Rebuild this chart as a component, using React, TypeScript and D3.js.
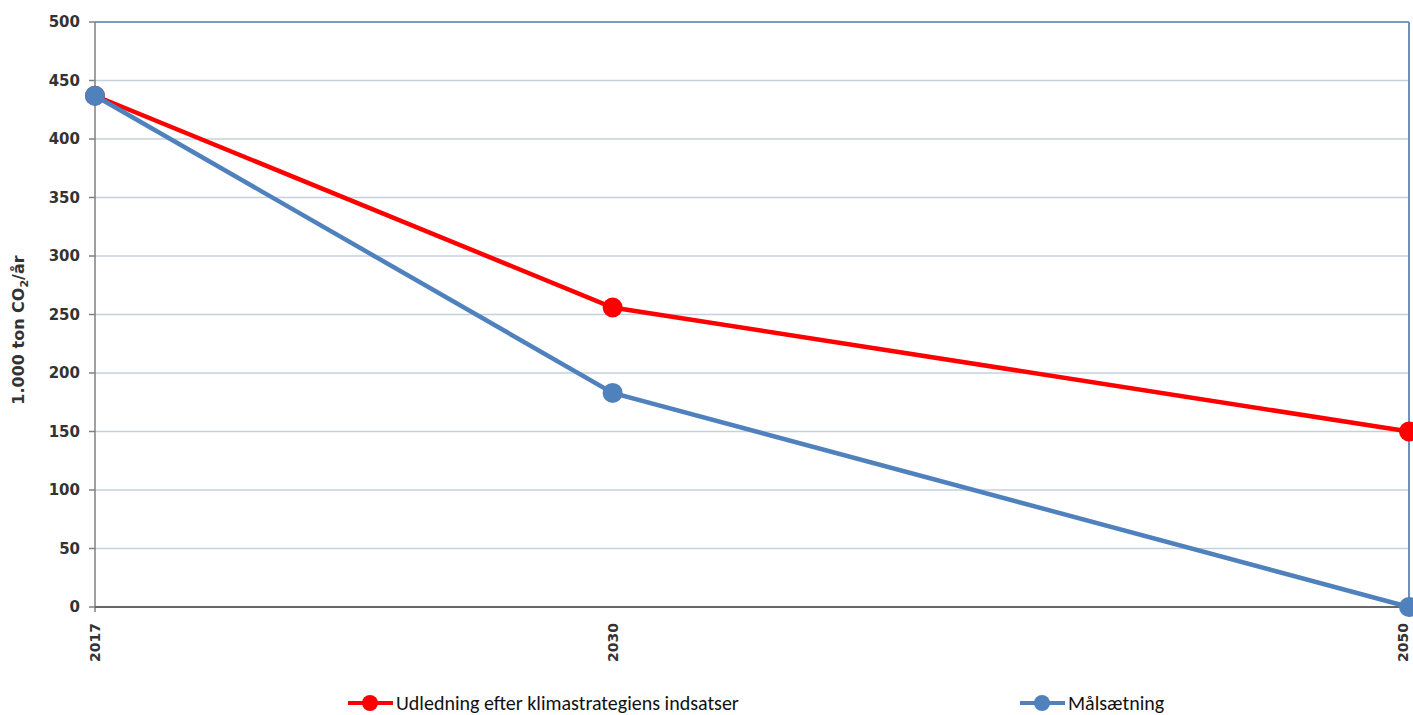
import React from "react";
import * as d3 from "d3";

const years = [2017, 2030, 2050];
const udledning = [437, 256, 150];
const maalsaetning = [437, 183, 0];
const yTicks = [0, 50, 100, 150, 200, 250, 300, 350, 400, 450, 500];
const seriesNames = ["Udledning efter klimastrategiens indsatser", "Målsætning"];
const seriesColors = ["#ff0000", "#4f81bd"];

const W = 1413, H = 715;
const m = { left: 95, right: 4, top: 22, bottom: 108 };

export default function App() {
  const x = d3.scaleLinear().domain([2017, 2050]).range([m.left, W - m.right]);
  const y = d3.scaleLinear().domain([0, 500]).range([H - m.bottom, m.top]);
  const line = d3.line<[number, number]>().x(d => x(d[0])).y(d => y(d[1]));
  const series = [udledning, maalsaetning];
  const font = "'DejaVu Sans', Verdana, sans-serif";
  const legendX = [348, 1020];
  const legendY = 703;
  return (
    <svg width={W} height={H} style={{ position: "absolute", left: 0, top: 0, background: "#fff" }}>
      {yTicks.map(t => (
        <g key={t}>
          {t > 0 && t < 500 && (
            <line x1={m.left} x2={W - m.right} y1={y(t)} y2={y(t)} stroke="#c5d0df" strokeWidth={1.5} />
          )}
          <line x1={m.left - 6} x2={m.left} y1={y(t)} y2={y(t)} stroke="#808080" strokeWidth={1.5} />
          <text x={80} y={y(t)} dy="0.36em" textAnchor="end" fontFamily={font} fontWeight="bold" fontSize={15} fill="#333">{t}</text>
        </g>
      ))}
      <line x1={m.left} x2={W - m.right} y1={y(500)} y2={y(500)} stroke="#7f9ab8" strokeWidth={2} />
      <line x1={W - m.right} x2={W - m.right} y1={y(500)} y2={y(0)} stroke="#6f91c0" strokeWidth={2} />
      <line x1={m.left} x2={m.left} y1={y(500)} y2={y(0) + 5} stroke="#808080" strokeWidth={1.5} />
      <line x1={m.left} x2={W - m.right} y1={y(0)} y2={y(0)} stroke="#666" strokeWidth={2} />
      {years.map(yr => (
        <text key={yr} transform={`translate(${Math.min(x(yr) + 5, W - 5)},${y(0) + 16}) rotate(-90)`} textAnchor="end" fontFamily={font} fontWeight="bold" fontSize={14} fill="#333">{yr}</text>
      ))}
      <text transform={`translate(24,330) rotate(-90)`} textAnchor="middle" fontFamily={font} fontWeight="bold" fontSize={16} fill="#333">
        1.000 ton CO<tspan fontSize={11} dy={4}>2</tspan><tspan dy={-4}>/år</tspan>
      </text>
      {series.map((s, i) => {
        const pts = years.map((yr, j) => [yr, s[j]] as [number, number]);
        return (
          <g key={i}>
            <path d={line(pts) || ""} fill="none" stroke={seriesColors[i]} strokeWidth={4.5} />
            {pts.map((p, j) => (
              <circle key={j} cx={x(p[0])} cy={y(p[1])} r={10} fill={seriesColors[i]} />
            ))}
          </g>
        );
      })}
      {seriesNames.map((n, i) => (
        <g key={n}>
          <line x1={legendX[i]} x2={legendX[i] + 45} y1={legendY} y2={legendY} stroke={seriesColors[i]} strokeWidth={4} />
          <circle cx={legendX[i] + 22} cy={legendY} r={8} fill={seriesColors[i]} />
          <text x={legendX[i] + 48} y={legendY} dy="0.35em" fontFamily="Carlito, Lato, sans-serif" fontSize={20} fill="#111">{n}</text>
        </g>
      ))}
    </svg>
  );
}
